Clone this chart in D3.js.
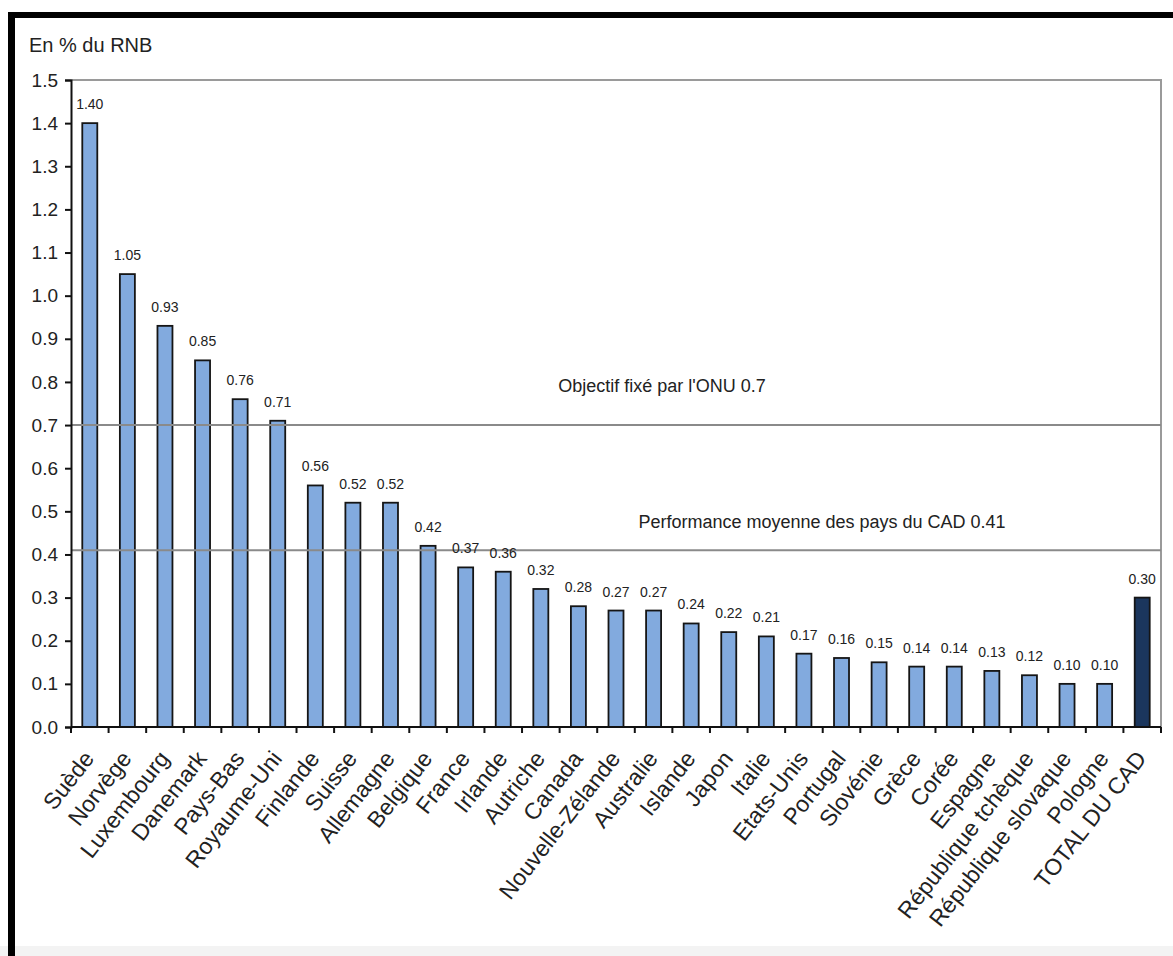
<!DOCTYPE html>
<html>
<head>
<meta charset="utf-8">
<script src="https://cdn.jsdelivr.net/npm/d3@7/dist/d3.min.js"></script>
<style>
  html, body { margin: 0; padding: 0; background: #fff; }
  svg { display: block; font-family: "Liberation Sans", Arial, sans-serif; }
</style>
</head>
<body>
<svg id="chart" width="1173" height="956"></svg>
<script>
// APD nette en % du RNB, par pays membre du CAD
const countries = [
  "Suède", "Norvège", "Luxembourg", "Danemark", "Pays-Bas", "Royaume-Uni",
  "Finlande", "Suisse", "Allemagne", "Belgique", "France", "Irlande",
  "Autriche", "Canada", "Nouvelle-Zélande", "Australie", "Islande", "Japon",
  "Italie", "Etats-Unis", "Portugal", "Slovénie", "Grèce", "Corée",
  "Espagne", "République tchèque", "République slovaque", "Pologne",
  "TOTAL DU CAD"
];
const values = [
  1.40, 1.05, 0.93, 0.85, 0.76, 0.71,
  0.56, 0.52, 0.52, 0.42, 0.37, 0.36,
  0.32, 0.28, 0.27, 0.27, 0.24, 0.22,
  0.21, 0.17, 0.16, 0.15, 0.14, 0.14,
  0.13, 0.12, 0.10, 0.10,
  0.30
];
const yTicks = [0.0, 0.1, 0.2, 0.3, 0.4, 0.5, 0.6, 0.7, 0.8, 0.9, 1.0, 1.1, 1.2, 1.3, 1.4, 1.5];
const refLines = [
  { value: 0.7,  label: "Objectif fixé par l'ONU 0.7" },
  { value: 0.41, label: "Performance moyenne des pays du CAD 0.41" }
];
const totalName = "TOTAL DU CAD";
const axisTitle = "En % du RNB";

const data = countries.map((c, i) => ({ name: c, value: values[i] }));

const svg = d3.select("#chart");
const plot = { left: 71, right: 1161, top: 80, bottom: 727 };

// outer frame (thick black left and top edges, light strip at the bottom)
svg.append("rect").attr("x", 0).attr("y", 946).attr("width", 1173).attr("height", 10).attr("fill", "#f3f3f3");
svg.append("rect").attr("x", 8).attr("y", 12).attr("width", 7).attr("height", 944).attr("fill", "#000");
svg.append("rect").attr("x", 8).attr("y", 12).attr("width", 1165).attr("height", 6).attr("fill", "#000");

const x = d3.scaleBand().domain(countries).range([plot.left, plot.right]).padding(0);
const y = d3.scaleLinear().domain([0, 1.5]).range([plot.bottom, plot.top]);

// plot border (top and right)
svg.append("path")
  .attr("d", `M${plot.left},${y(1.5)}H${plot.right}V${plot.bottom}`)
  .attr("fill", "none").attr("stroke", "#9a9a9a").attr("stroke-width", 2);

// bars
const barW = 15;
svg.append("g").selectAll("rect").data(data).join("rect")
  .attr("x", d => x(d.name) + x.bandwidth() / 2 - barW / 2)
  .attr("y", d => y(d.value))
  .attr("width", barW)
  .attr("height", d => y(0) - y(d.value))
  .attr("fill", d => d.name === totalName ? "#1b365d" : "#82aade")
  .attr("stroke", "#151515")
  .attr("stroke-width", 1.8);

// reference lines
const refG = svg.append("g");
refG.selectAll("line").data(refLines).join("line")
  .attr("x1", plot.left).attr("x2", plot.right)
  .attr("y1", d => y(d.value)).attr("y2", d => y(d.value))
  .attr("stroke", "#8a8a8a").attr("stroke-width", 2);
refG.append("text")
  .attr("x", 662).attr("y", y(refLines[0].value) - 33)
  .attr("text-anchor", "middle").attr("font-size", 18).attr("fill", "#222")
  .text(refLines[0].label);
refG.append("text")
  .attr("x", 822).attr("y", y(refLines[1].value) - 22)
  .attr("text-anchor", "middle").attr("font-size", 18).attr("fill", "#222")
  .text(refLines[1].label);

// value labels
svg.append("g").selectAll("text").data(data).join("text")
  .attr("x", d => x(d.name) + x.bandwidth() / 2)
  .attr("y", d => y(d.value) - 14)
  .attr("text-anchor", "middle")
  .attr("font-size", 14)
  .attr("fill", "#222")
  .text(d => d.value.toFixed(2));

// y axis
const yAxis = d3.axisLeft(y).tickValues(yTicks).tickFormat(d3.format(".1f")).tickSize(6).tickPadding(7);
const gy = svg.append("g").attr("transform", `translate(${plot.left},0)`).call(yAxis);
gy.select(".domain").attr("stroke", "#111").attr("stroke-width", 2);
gy.selectAll(".tick line").attr("stroke", "#111").attr("stroke-width", 2);
gy.selectAll(".tick text").attr("font-size", 19).attr("fill", "#222")
  .attr("font-family", "Liberation Sans, Arial, sans-serif");

// x axis: ticks at band boundaries
const gx = svg.append("g");
gx.append("line")
  .attr("x1", plot.left).attr("x2", plot.right)
  .attr("y1", plot.bottom).attr("y2", plot.bottom)
  .attr("stroke", "#111").attr("stroke-width", 2);
const boundaries = countries.map(c => x(c)).concat([x.range()[1]]);
gx.selectAll("line.tk").data(boundaries).join("line")
  .attr("class", "tk")
  .attr("x1", d => d).attr("x2", d => d)
  .attr("y1", plot.bottom).attr("y2", plot.bottom + 6)
  .attr("stroke", "#111").attr("stroke-width", 2);
// category labels, slanted
gx.selectAll("text").data(countries).join("text")
  .attr("text-anchor", "end")
  .attr("font-size", 23)
  .attr("fill", "#222")
  .attr("transform", d => `translate(${x(d) + x.bandwidth() / 2 - 1},${plot.bottom + 27}) rotate(-52)`)
  .attr("dy", "0.35em")
  .text(d => d);

// axis title
svg.append("text").attr("x", 29).attr("y", 52)
  .attr("font-size", 20).attr("fill", "#222").text(axisTitle);
</script>
</body>
</html>
